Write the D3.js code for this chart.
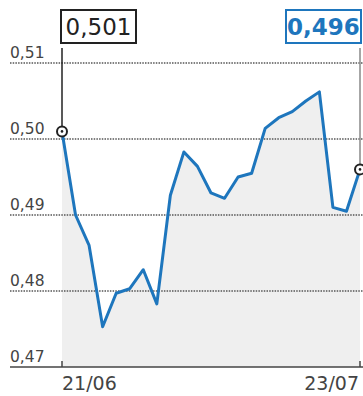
<!DOCTYPE html>
<html>
<head>
<meta charset="utf-8">
<script src="https://cdn.jsdelivr.net/npm/d3@7"></script>
<style>
  body { margin: 0; background: #fff; }
  svg { display: block; font-family: "DejaVu Sans", sans-serif; }
</style>
</head>
<body>
<svg width="363" height="396"></svg>
<script>
// trading days shown on the chart
const dates = ["21/06", "22/06", "23/06", "24/06", "25/06", "28/06", "29/06", "30/06",
  "01/07", "02/07", "05/07", "06/07", "07/07", "08/07", "09/07", "12/07", "13/07",
  "15/07", "16/07", "19/07", "20/07", "22/07", "23/07"];
const values = [0.501, 0.490, 0.486, 0.4753, 0.4797, 0.4803, 0.4828, 0.4783, 0.4926,
  0.4983, 0.4964, 0.4929, 0.4922, 0.4950, 0.4955, 0.5014, 0.5028, 0.5036, 0.5050,
  0.5062, 0.4910, 0.4905, 0.4960];
const yTicks = [0.47, 0.48, 0.49, 0.50, 0.51];
const xTickLabels = ["21/06", "23/07"];
const firstLabel = "0,501";
const lastLabel = "0,496";

const blue = "#1e76bd";
const svg = d3.select("svg");
const width = +svg.attr("width");

const x = d3.scalePoint().domain(dates).range([62, 360]);
const y = d3.scaleLinear().domain([0.47, 0.51]).range([367, 63]);
const fmt = v => d3.format(".2f")(v).replace(".", ",");

const data = dates.map((d, i) => ({ date: d, value: values[i] }));

// grey area under the line
svg.append("path")
  .datum(data)
  .attr("fill", "#efefef")
  .attr("d", d3.area().x(d => x(d.date)).y0(y(0.47)).y1(d => y(d.value)));

// dotted gridlines + labels
yTicks.forEach(t => {
  if (t > 0.47) {
    svg.append("line")
      .attr("x1", 10).attr("x2", width)
      .attr("y1", y(t)).attr("y2", y(t))
      .attr("stroke", "#555").attr("stroke-width", 1.5)
      .attr("stroke-dasharray", "1.5,1.2");
  }
  svg.append("text")
    .attr("x", 10).attr("y", y(t) - 5)
    .attr("font-size", 15.5).attr("fill", "#444")
    .text(fmt(t));
});

// baseline and ticks
svg.append("line")
  .attr("x1", 10).attr("x2", width)
  .attr("y1", y(0.47)).attr("y2", y(0.47))
  .attr("stroke", "#444").attr("stroke-width", 1.5);

xTickLabels.forEach((lab, i) => {
  const xp = x(lab);
  svg.append("line")
    .attr("x1", xp).attr("x2", xp)
    .attr("y1", y(0.47) - 6).attr("y2", y(0.47))
    .attr("stroke", "#444").attr("stroke-width", 1.5);
  svg.append("text")
    .attr("x", i === 0 ? xp : xp - 1)
    .attr("y", 390)
    .attr("text-anchor", i === 0 ? "start" : "end")
    .attr("font-size", 19).attr("fill", "#444")
    .text(lab);
});

// the price line
svg.append("path")
  .datum(data)
  .attr("fill", "none")
  .attr("stroke", blue)
  .attr("stroke-width", 3)
  .attr("stroke-linejoin", "round")
  .attr("d", d3.line().x(d => x(d.date)).y(d => y(d.value)));

// callouts for first and last value
const first = data[0], last = data[data.length - 1];

function callout(d, label, opts) {
  const xp = x(d.date), yp = y(d.value);
  svg.append("line")
    .attr("x1", xp).attr("x2", xp)
    .attr("y1", 48).attr("y2", yp)
    .attr("stroke", opts.lineColor).attr("stroke-width", 1.5);
  svg.append("rect")
    .attr("x", opts.boxX).attr("y", 10)
    .attr("width", 75).attr("height", 33)
    .attr("fill", "#fff")
    .attr("stroke", opts.boxColor).attr("stroke-width", 2);
  svg.append("text")
    .attr("x", opts.boxX + 37.5).attr("y", 35)
    .attr("text-anchor", "middle")
    .attr("font-size", 23)
    .attr("font-weight", opts.bold ? "bold" : "normal")
    .attr("fill", opts.textColor)
    .text(label);
  svg.append("circle")
    .attr("cx", xp).attr("cy", yp).attr("r", 5)
    .attr("fill", "#fff").attr("stroke", "#222").attr("stroke-width", 2);
  svg.append("circle")
    .attr("cx", xp).attr("cy", yp).attr("r", 1.3)
    .attr("fill", "#222");
}

callout(first, firstLabel, { boxX: x(first.date) - 1, boxColor: "#222", textColor: "#222", lineColor: "#222", bold: false });
callout(last, lastLabel, { boxX: width - 77, boxColor: blue, textColor: blue, lineColor: "#888", bold: true });
</script>
</body>
</html>
